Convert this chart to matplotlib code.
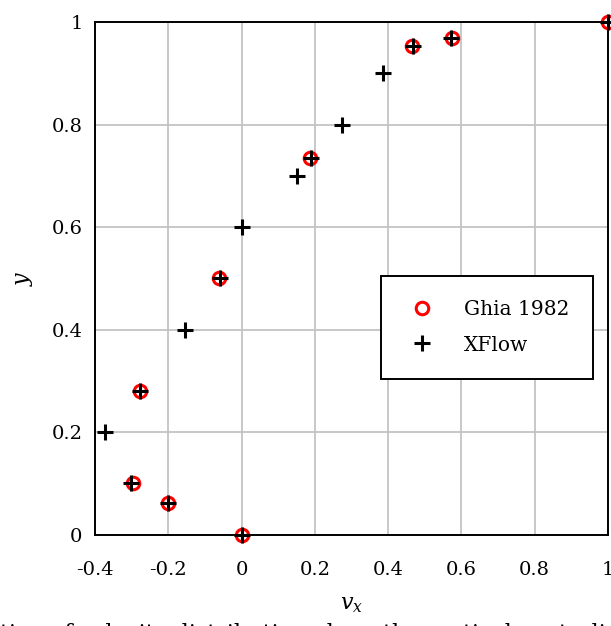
import matplotlib
matplotlib.use("Agg")
import matplotlib.pyplot as plt

# Ghia et al. 1982 reference data (u-velocity along vertical centreline)
ghia_vx = [0.0, -0.20196, -0.29730, -0.27805, -0.06080, 0.18719, 0.46604, 0.57492, 1.0]
ghia_y = [0.0, 0.0625, 0.1016, 0.2813, 0.5, 0.7344, 0.9531, 0.9688, 1.0]

# XFlow results
xflow_vx = [0.0, -0.200, -0.303, -0.373, -0.277, -0.155, -0.058, 0.0, 0.152, 0.19,
            0.274, 0.387, 0.468, 0.573, 1.0]
xflow_y = [0.0, 0.0625, 0.1016, 0.2, 0.2813, 0.4, 0.5, 0.6, 0.7, 0.7344,
           0.8, 0.9, 0.9531, 0.9688, 1.0]

plt.rcParams['font.family'] = ['DejaVu Serif']
plt.rcParams['mathtext.fontset'] = 'dejavuserif'

fig = plt.figure(figsize=(6.11, 6.26), dpi=100)
ax = fig.add_axes([0.1555, 0.1454, 0.8395, 0.8195])

ax.plot(ghia_vx, ghia_y, linestyle='none', marker='o', markersize=9,
        markerfacecolor='none', markeredgecolor='#ff0000', markeredgewidth=2.2,
        label='Ghia 1982', clip_on=False, zorder=3)
ax.plot(xflow_vx, xflow_y, linestyle='none', marker='+', markersize=12,
        color='black', markeredgewidth=2.2, label='XFlow', clip_on=False, zorder=4)

ax.set_xlim(-0.4, 1.0)
ax.set_ylim(0, 1.0)
ax.set_xticks([-0.4, -0.2, 0, 0.2, 0.4, 0.6, 0.8, 1])
ax.set_xticklabels(['-0.4', '-0.2', '0', '0.2', '0.4', '0.6', '0.8', '1'])
ax.set_yticks([0, 0.2, 0.4, 0.6, 0.8, 1])
ax.set_yticklabels(['0', '0.2', '0.4', '0.6', '0.8', '1'])
ax.tick_params(length=0, labelsize=14)
ax.tick_params(axis='x', pad=19)
ax.tick_params(axis='y', pad=9)
ax.grid(True, color='#c4c4c4', linewidth=1.3)
ax.set_axisbelow(True)
for s in ax.spines.values():
    s.set_linewidth(1.4)
    s.set_color('black')

ax.set_xlabel('$v_x$', fontsize=16, labelpad=10)
ax.set_ylabel('$y$', fontsize=16, labelpad=12)

leg = ax.legend(loc='center right', bbox_to_anchor=(0.971, 0.4045), borderaxespad=0,
                fontsize=14.5, frameon=True, fancybox=False, edgecolor='black',
                framealpha=1, borderpad=1.2, handletextpad=1.2, labelspacing=0.8,
                handlelength=1.7)
leg.get_frame().set_linewidth(1.4)

fig.text(0.0, 0.004, 'tion of velocity distribution along the vertical centreline of the cavity',
         fontsize=16, va='top', ha='left')

fig.savefig('out.png', dpi=100)
